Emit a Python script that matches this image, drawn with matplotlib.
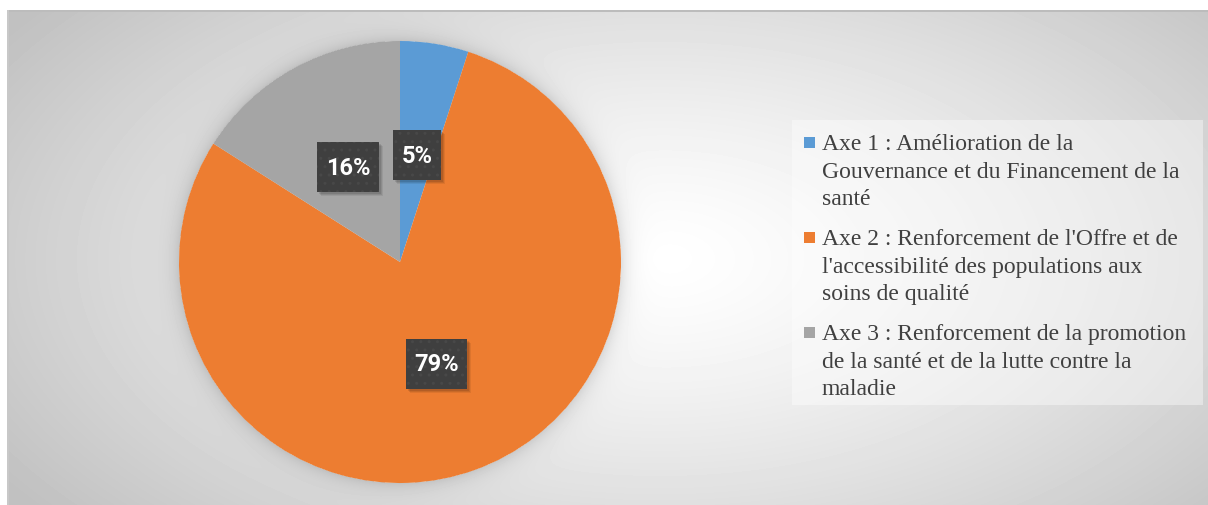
import numpy as np
import matplotlib.pyplot as plt
from matplotlib.patches import Rectangle
from matplotlib.path import Path
from matplotlib.transforms import IdentityTransform

# Répartition du budget par axe stratégique
axes_labels = [
    "Axe 1 : Amélioration de la\nGouvernance et du Financement de la\nsanté",
    "Axe 2 : Renforcement de l'Offre et de\nl'accessibilité des populations aux\nsoins de qualité",
    "Axe 3 : Renforcement de la promotion\nde la santé et de la lutte contre la\nmaladie",
]
shares = [5, 79, 16]
colors = ["#5B9BD5", "#ED7D31", "#A5A5A5"]

W, H = 1208, 506
PIE_CX, PIE_CY, PIE_R = 400, 263, 221   # pixels, origin top-left


def fx(x):
    return x / W


def fy(y):
    return 1 - y / H


def label_box(x0, y0, width, height, mutation_size):
    # rectangle with more padding top/bottom than left/right
    px, py = 0.36 * mutation_size, 0.56 * mutation_size
    x0, y0 = x0 - px, y0 - py
    x1, y1 = x0 + width + 2 * px, y0 + height + 2 * py
    return Path([(x0, y0), (x1, y0), (x1, y1), (x0, y1), (x0, y0)],
                closed=True)


fig = plt.figure(figsize=(W / 100, H / 100), dpi=100)

# radial grey background with a soft glow around the pie
yy, xx = np.mgrid[0:H, 0:W] + 0.5
r = np.sqrt(((xx - 660) / 620) ** 2 + ((yy - 260) / 330) ** 2)
bg = 255 - 62 * np.clip(r / 1.25, 0, 1) ** 1.3
d = np.hypot(xx - PIE_CX, yy - PIE_CY) - PIE_R
bg = np.where(d > 0, bg * (1 - 0.12 * np.exp(-np.clip(d, 0, None) / 9)), bg)
bg[(yy >= 11) & (yy < 13.5)] = 188
bg[(xx >= 7) & (xx < 9.5)] = 200
bg[(xx < 7) | (yy < 11)] = 255

bg_ax = fig.add_axes([0, 0, 1, 1], zorder=0)
bg_ax.imshow(bg, cmap="gray", vmin=0, vmax=255, extent=(0, W, H, 0),
             interpolation="bilinear", aspect="auto")
bg_ax.axis("off")

# pie
ax = fig.add_axes([fx(PIE_CX - PIE_R), fy(PIE_CY + PIE_R),
                   2 * PIE_R / W, 2 * PIE_R / H], zorder=1)
wedges, _, pct_texts = ax.pie(
    shares, colors=colors, startangle=90, counterclock=False, radius=1,
    autopct=lambda p: f"{p:.0f}%", pctdistance=0.49,
    wedgeprops=dict(linewidth=0),
)
ax.set_xlim(-1, 1)
ax.set_ylim(-1, 1)
ax.patch.set_visible(False)

for t in pct_texts:
    t.set(color="white", fontsize=17, fontweight="bold", family="Roboto",
          zorder=4)
    t.set_bbox(dict(boxstyle=label_box, fc="#3f3f3f", ec="#484848",
                    lw=0, hatch=".."))

# soft drop shadow below each label box
fig.canvas.draw()
for t in pct_texts:
    bb = t.get_bbox_patch().get_window_extent()
    for k, a in enumerate([0.10, 0.09, 0.07]):
        ax.add_patch(Rectangle((bb.x0 + 2 + k, bb.y0 - 2 - k), bb.width,
                               bb.height, transform=IdentityTransform(),
                               fc="black", alpha=a, lw=0, zorder=3))

# legend
fig.add_artist(Rectangle((fx(792), fy(406)), (1203 - 792) / W, (406 - 121) / H,
                         transform=fig.transFigure, fc="white", alpha=0.4,
                         ec="none", zorder=2))
entry_tops = [134, 229, 324]
for lab, col, top in zip(axes_labels, colors, entry_tops):
    fig.add_artist(Rectangle((fx(804), fy(top + 15)), 11 / W, 11 / H,
                             transform=fig.transFigure, fc=col, ec="none",
                             zorder=3))
    fig.text(fx(822), fy(top), lab, ha="left", va="top", fontsize=17,
             family="Liberation Serif", color="#404040", linespacing=1.42,
             zorder=3)

fig.savefig("out.png", dpi=100)
